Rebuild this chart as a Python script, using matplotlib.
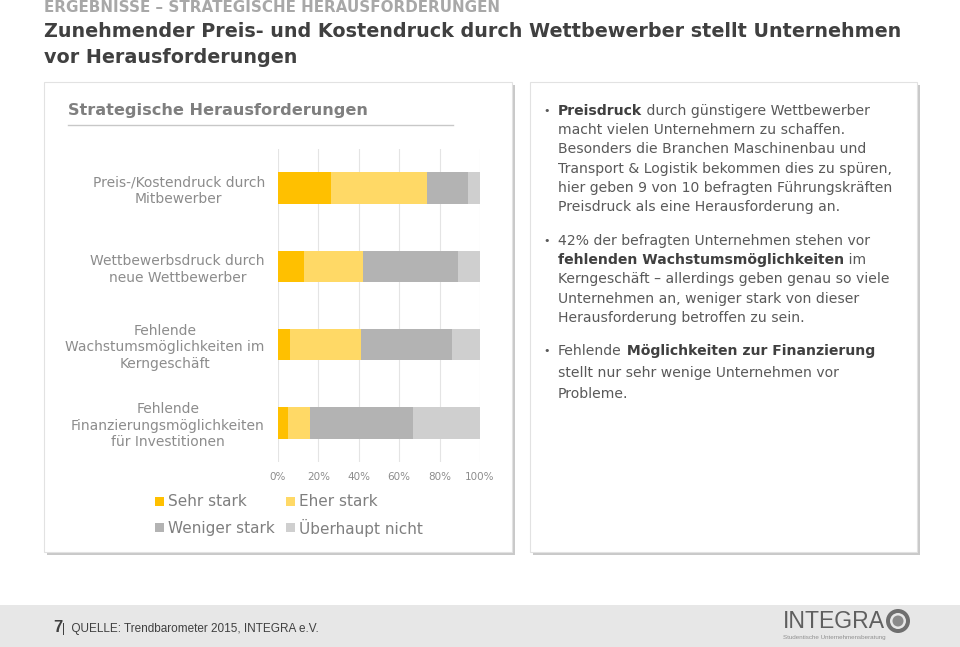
import matplotlib.pyplot as plt
import matplotlib.patches as mpatches
import numpy as np

# Data
categories = ["Preis-/Kostendruck durch\nMitbewerber",
              "Wettbewerbsdruck durch\nneue Wettbewerber",
              "Fehlende\nWachstumsmöglichkeiten im\nKerngeschäft",
              "Fehlende\nFinanzierungsmöglichkeiten\nfür Investitionen"]
series_names = ["Sehr stark", "Eher stark", "Weniger stark", "Überhaupt nicht"]
sehr_stark = [26, 13, 6, 5]
eher_stark = [48, 29, 35, 11]
weniger_stark = [20, 47, 45, 51]
ueberhaupt_nicht = [6, 11, 14, 33]
colors = ["#FFC000", "#FFD966", "#B3B3B3", "#CFCFCF"]
x_ticks = [0, 20, 40, 60, 80, 100]

narrow = ['Liberation Sans Narrow', 'Liberation Sans', 'DejaVu Sans']
arial = ['Liberation Sans', 'DejaVu Sans']
grey_txt = '#8c8c8c'
body_txt = '#595959'

fig = plt.figure(figsize=(9.6, 6.47), dpi=100)
bg = fig.add_axes([0, 0, 1, 1])
bg.set_xlim(0, 960)
bg.set_ylim(647, 0)
bg.axis('off')
renderer = fig.canvas.get_renderer()


def fit(x, y, s, width, size, **kw):
    # scale font so the text spans the given pixel width
    t = bg.text(x, y, s, fontsize=size, **kw)
    w = t.get_window_extent(renderer).width
    t.set_fontsize(size * width / w)
    return t


# Panels with shadow
for x0, x1 in [(44, 512), (530, 917)]:
    bg.add_patch(mpatches.Rectangle((x0 + 3, 85), x1 - x0, 470, fc='#c9c9c9', ec='none'))
    bg.add_patch(mpatches.Rectangle((x0, 82), x1 - x0, 470, fc='white', ec='#e2e2e2', lw=0.8))

# Footer band
bg.add_patch(mpatches.Rectangle((0, 605), 960, 42, fc='#e7e7e7', ec='none'))

# Header
fit(44, 12.5, "ERGEBNISSE – STRATEGISCHE HERAUSFORDERUNGEN", 453, 11,
    family='DejaVu Sans', weight='bold', color='#a8a8a8', va='baseline')
t1 = fit(44, 37, "Zunehmender Preis- und Kostendruck durch Wettbewerber stellt Unternehmen", 861, 15,
         family='DejaVu Sans', weight='bold', color='#404040', va='baseline')
bg.text(44, 63, "vor Herausforderungen", fontsize=t1.get_fontsize(),
        family='DejaVu Sans', weight='bold', color='#404040', va='baseline')

# Left panel heading
fit(68, 111, "Strategische Herausforderungen", 298, 12, weight='bold', color='#7f7f7f', va='center')
bg.plot([68, 453], [125, 125], color='#c8c8c8', lw=1)

# Stacked bar chart
ax = fig.add_axes([278 / 960, 1 - 462 / 647, 202 / 960, (462 - 149) / 647])
ax.patch.set_alpha(0)
y = np.arange(len(categories))
left = np.zeros(len(categories))
for vals, c in zip([sehr_stark, eher_stark, weniger_stark, ueberhaupt_nicht], colors):
    ax.barh(y, vals, left=left, height=0.4, color=c, zorder=2)
    left += np.array(vals)
ax.set_xlim(0, 100)
ax.set_ylim(3.5, -0.5)
ax.set_xticks(x_ticks, [f"{v}%" for v in x_ticks])
ax.set_yticks(y, categories)
ax.tick_params(length=0)
ax.tick_params(axis='x', colors=grey_txt, labelsize=7.5, pad=7)
ax.tick_params(axis='y', colors=grey_txt, labelsize=10, pad=9.5)
for lab in ax.get_yticklabels():
    lab.set_multialignment('center')
    lab.set_linespacing(1.25)
ax.grid(axis='x', color='#e4e4e4', lw=0.8, zorder=0)
for s in ax.spines.values():
    s.set_visible(False)

# Legend
leg_pos = [(160, 502), (291, 502), (160, 528), (291, 528)]
for (lx, ly), name, c in zip(leg_pos, series_names, colors):
    bg.add_patch(mpatches.Rectangle((lx - 5, ly - 5), 9, 9, fc=c, ec='none'))
    bg.text(lx + 8, ly, name, fontsize=11, color='#7f7f7f', va='center')

# Right panel text
def draw_line(x, yb, segments):
    for s, bold in segments:
        t = bg.text(x, yb, s, fontsize=10.1, va='baseline',
                    color='#404040' if bold else body_txt,
                    weight='bold' if bold else 'normal')
        x += t.get_window_extent(renderer).width


bullets = [
    ([[("Preisdruck", 1), (" durch günstigere Wettbewerber", 0)],
      [("macht vielen Unternehmern zu schaffen.", 0)],
      [("Besonders die Branchen Maschinenbau und", 0)],
      [("Transport & Logistik bekommen dies zu spüren,", 0)],
      [("hier geben 9 von 10 befragten Führungskräften", 0)],
      [("Preisdruck als eine Herausforderung an.", 0)]],
     [115 + 19.2 * i for i in range(6)]),
    ([[("42% der befragten Unternehmen stehen vor", 0)],
      [("fehlenden Wachstumsmöglichkeiten", 1), (" im", 0)],
      [("Kerngeschäft – allerdings geben genau so viele", 0)],
      [("Unternehmen an, weniger stark von dieser", 0)],
      [("Herausforderung betroffen zu sein.", 0)]],
     [245 + 19.2 * i for i in range(5)]),
    ([[("Fehlende", 0), (" Möglichkeiten zur Finanzierung", 1)],
      [("stellt nur sehr wenige Unternehmen vor", 0)],
      [("Probleme.", 0)]],
     [355, 377, 398]),
]
for lines, ys in bullets:
    bg.text(543, ys[0] - 1, "•", fontsize=8, color=body_txt, va='baseline')
    for segs, yb in zip(lines, ys):
        draw_line(558, yb, segs)

# Footer
t7 = bg.text(53, 632, "7", fontsize=12, family=narrow, weight='bold', color='#404040', va='baseline')
x7 = 53 + t7.get_window_extent(renderer).width
fit(x7, 632, "|  QUELLE: Trendbarometer 2015, INTEGRA e.V.", 318 - x7, 11,
    family=narrow, color='#404040', va='baseline')

# Logo
fit(783, 628, "INTEGRA", 102, 18, family=arial, color='#5f5f5f', va='baseline')
fit(783, 638, "Studentische Unternehmensberatung", 102, 4, family=narrow,
    color='#909090', va='center')
bg.add_patch(mpatches.Circle((898, 621), 12, fc='#6f6f6f', ec='none'))
bg.add_patch(mpatches.Circle((898, 621), 8, fc='#e7e7e7', ec='none'))
bg.add_patch(mpatches.Circle((898, 621), 5.5, fc='#8a8a8a', ec='none'))

fig.savefig("out.png", dpi=100)
